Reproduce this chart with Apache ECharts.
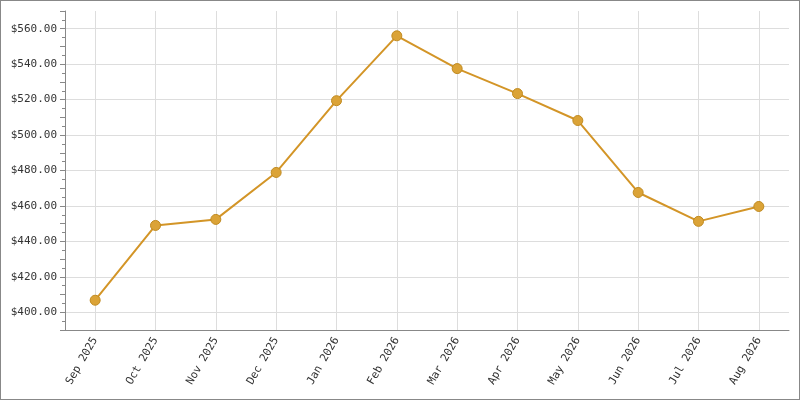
<!DOCTYPE html>
<html><head><meta charset="utf-8">
<script src="https://cdn.jsdelivr.net/npm/echarts@6/dist/echarts.min.js"></script>
<style>html,body{margin:0;padding:0;}#c{width:798px;height:398px;border:1px solid #888;}</style>
</head><body><div id="c"></div>
<script>
var categories = ['Sep 2025','Oct 2025','Nov 2025','Dec 2025','Jan 2026','Feb 2026','Mar 2026','Apr 2026','May 2026','Jun 2026','Jul 2026','Aug 2026'];
var values = [406.8, 449.0, 452.4, 478.9, 519.4, 556.0, 537.5, 523.4, 508.2, 467.6, 451.3, 459.7];
var yTicks = [400, 420, 440, 460, 480, 500, 520, 540, 560];
var chart = echarts.init(document.getElementById('c'));
var font = 'DejaVu Sans Mono';
var gridStyle = {color:'#ddd',type:'solid',width:1};
chart.setOption({
  animation:false,
  grid:{left:64,right:10,top:10,bottom:69},
  xAxis:{type:'category',data:categories,boundaryGap:true,
    axisLine:{lineStyle:{color:'#888'}},
    axisTick:{alignWithLabel:true,length:5,lineStyle:{color:'#888'}},
    axisLabel:{rotate:60,color:'#333',fontFamily:font,fontSize:11,margin:8},
    splitLine:{show:false}},
  yAxis:{type:'value',min:390,max:570,interval:10,
    axisLine:{show:true,lineStyle:{color:'#888'}},
    axisTick:{show:true,length:5,lineStyle:{color:'#888'}},
    minorTick:{show:true,splitNumber:2,length:3,lineStyle:{color:'#888'}},
    axisLabel:{color:'#333',fontFamily:font,fontSize:11,formatter:function(v){return yTicks.indexOf(v)>=0?'$'+v.toFixed(2):'';}},
    splitLine:{show:false}},
  series:[{type:'line',data:values,symbol:'circle',symbolSize:10,
    lineStyle:{color:'#d39527',width:2},
    itemStyle:{color:'#dba337',borderColor:'#c08a20',borderWidth:1},
    markLine:{silent:true,symbol:'none',label:{show:false},lineStyle:gridStyle,z:0,
      data:categories.map(function(c){return {xAxis:c};}).concat(yTicks.map(function(v){return {yAxis:v};}))}
  }]
});
</script></body></html>
